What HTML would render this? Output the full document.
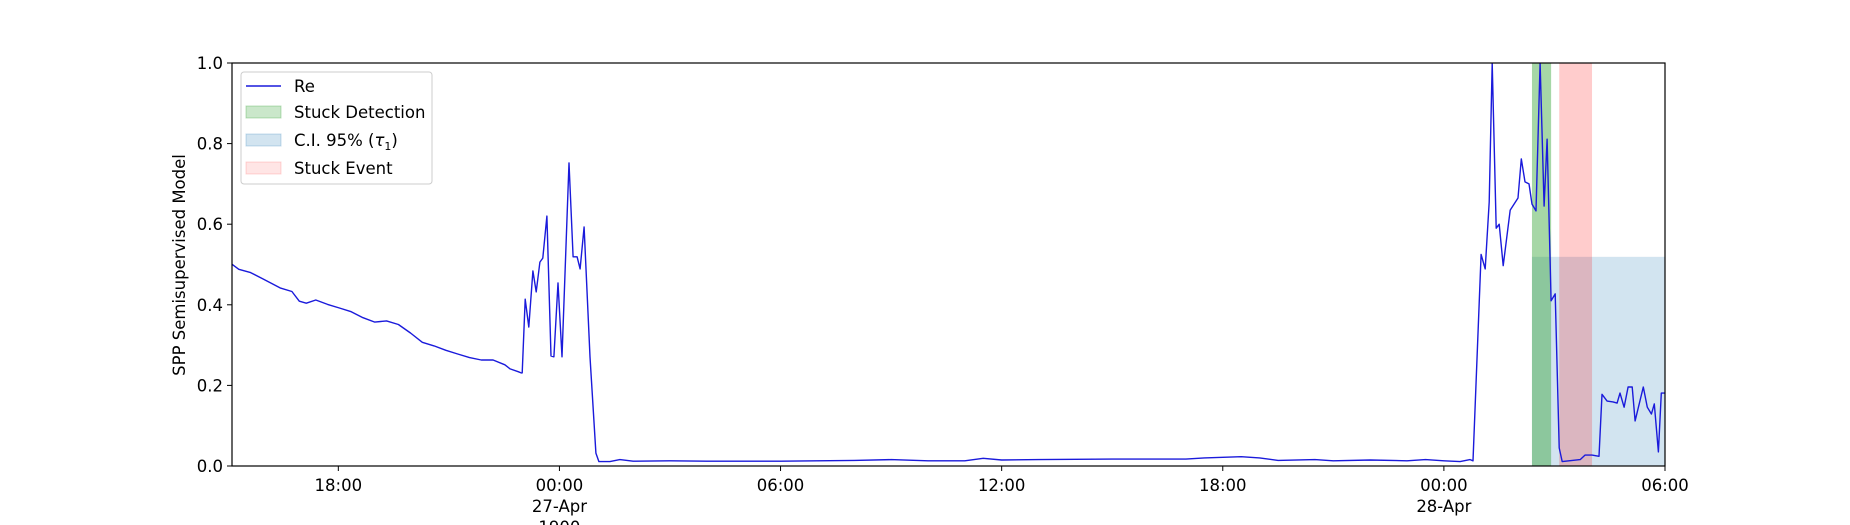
<!DOCTYPE html>
<html><head><meta charset="utf-8"><style>
html,body{margin:0;padding:0;background:#fff;}
svg{display:block;font-family:"DejaVu Sans","Liberation Sans",sans-serif;}
</style></head><body>
<svg id="chart" width="1850" height="525" viewBox="0 0 1850 525" xmlns="http://www.w3.org/2000/svg">
<defs><clipPath id="plotclip"><rect x="232" y="63" width="1433" height="403"/></clipPath></defs>
<g id="spans" clip-path="url(#plotclip)"></g>
<g id="line" clip-path="url(#plotclip)"></g>
<rect x="232" y="63" width="1433" height="403" fill="none" stroke="#000" stroke-width="1.2"/>
<g id="yaxis"></g>
<g id="xaxis"></g>
<text x="0" y="0" transform="translate(185,265) rotate(-90)" text-anchor="middle" font-size="16.5" fill="#000">SPP Semisupervised Model</text>
<g>
<rect x="241" y="72" width="191" height="112" rx="3" fill="#fff" fill-opacity="0.8" stroke="#ccc"/>
<g><line x1="246" y1="86" x2="281" y2="86" stroke="#1a1adb" stroke-width="1.4"/><text x="294" y="92" font-size="16.5">Re</text></g>
<g><rect x="246" y="106" width="35" height="12" fill="#2ca02c" fill-opacity="0.25" stroke="#2ca02c" stroke-opacity="0.3"/><text x="294" y="118" font-size="16.5">Stuck Detection</text></g>
<g><rect x="246" y="134" width="35" height="12" fill="#1f77b4" fill-opacity="0.2" stroke="#1f77b4" stroke-opacity="0.25"/><text x="294" y="146" font-size="16.5">C.I. 95% (<tspan font-style="italic">τ</tspan><tspan font-size="11" dy="4">1</tspan><tspan dy="-4">)</tspan></text></g>
<g><rect x="246" y="162" width="35" height="12" fill="#ff0000" fill-opacity="0.1" stroke="#ff0000" stroke-opacity="0.15"/><text x="294" y="174" font-size="16.5">Stuck Event</text></g>
</g>
</svg>
<script>
// hours since 26-Apr 00:00
const times = [15.04,15.30,15.62,15.94,16.42,16.74,16.94,17.13,17.39,17.71,18.03,18.35,18.67,18.99,19.31,19.63,19.96,20.28,20.60,20.92,21.24,21.56,21.88,22.20,22.52,22.66,22.88,22.96,22.99,23.07,23.17,23.28,23.37,23.47,23.55,23.66,23.77,23.85,23.96,24.07,24.26,24.37,24.48,24.56,24.67,24.83,24.99,25.07,25.37,25.64,26,27,28,29,30,31,32,33,34,35,35.5,36,37,39,41,41.5,42.5,43,43.5,44.5,45,46,47,47.5,48,48.44,48.71,48.79,49.01,49.12,49.23,49.31,49.42,49.50,49.61,49.80,50.01,50.10,50.20,50.31,50.39,50.50,50.61,50.72,50.80,50.91,51.02,51.13,51.21,51.70,51.83,52.02,52.21,52.29,52.43,52.59,52.70,52.78,52.89,53.00,53.11,53.19,53.41,53.52,53.63,53.71,53.82,53.90,54.0];
const values = [0.506,0.488,0.480,0.465,0.442,0.433,0.409,0.404,0.412,0.401,0.392,0.383,0.368,0.357,0.360,0.351,0.330,0.307,0.298,0.287,0.278,0.269,0.263,0.263,0.251,0.241,0.234,0.231,0.231,0.414,0.345,0.484,0.432,0.506,0.516,0.620,0.273,0.271,0.454,0.271,0.752,0.519,0.519,0.489,0.593,0.271,0.032,0.011,0.011,0.016,0.012,0.013,0.012,0.012,0.012,0.013,0.014,0.016,0.013,0.013,0.019,0.015,0.016,0.017,0.017,0.020,0.023,0.020,0.014,0.016,0.013,0.015,0.013,0.016,0.013,0.011,0.016,0.013,0.525,0.489,0.655,1.0,0.59,0.60,0.497,0.635,0.665,0.762,0.705,0.70,0.65,0.633,1.0,0.645,0.811,0.41,0.427,0.045,0.011,0.016,0.027,0.027,0.024,0.178,0.161,0.159,0.156,0.181,0.146,0.196,0.196,0.112,0.196,0.146,0.129,0.154,0.035,0.181,0.181];
const yTicks = [0,0.2,0.4,0.6,0.8,1.0];
const yTickLabels = ["0.0","0.2","0.4","0.6","0.8","1.0"];
const xTicks = [18,24,30,36,42,48,54];
const xTickLabels = [["18:00"],["00:00","27-Apr","1900"],["06:00"],["12:00"],["18:00"],["00:00","28-Apr"],["06:00"]];
const detectSpan = [50.39,50.91];
const eventSpan = [51.13,52.02];
const ciSpan = [50.39,54.0];
const ciUpper = [0.519];

const X0=232,X1=1665,Y0=466,Y1=63,T0=15.115,T1=54;
const xs = t => X0 + (t-T0)/(T1-T0)*(X1-X0);
const ys = v => Y0 - v*(Y0-Y1);
const NS="http://www.w3.org/2000/svg";
function mk(tag, attrs, parent){const e=document.createElementNS(NS,tag);for(const k in attrs)e.setAttribute(k,attrs[k]);parent.appendChild(e);return e;}

const spans=document.getElementById('spans');
let r=mk('rect',{x:xs(ciSpan[0]),y:ys(ciUpper[0]),width:xs(ciSpan[1])-xs(ciSpan[0]),height:ys(0)-ys(ciUpper[0]),fill:'#1f77b4','fill-opacity':0.2},spans);


r=mk('rect',{x:xs(detectSpan[0]),y:ys(1),width:xs(detectSpan[1])-xs(detectSpan[0]),height:ys(0)-ys(1),fill:'#2ca02c','fill-opacity':0.42},spans);


r=mk('rect',{x:xs(eventSpan[0]),y:ys(1),width:xs(eventSpan[1])-xs(eventSpan[0]),height:ys(0)-ys(1),fill:'#ff0000','fill-opacity':0.2},spans);



const pts=times.map((t,i)=>xs(t).toFixed(1)+','+ys(values[i]).toFixed(1)).join(' ');
const pl=mk('polyline',{points:pts,fill:'none',stroke:'#1a1adb','stroke-width':1.4,'stroke-linejoin':'round'},document.getElementById('line'));



const ya=document.getElementById('yaxis');
yTicks.forEach((v,i)=>{
  const y=ys(v);
  const tk=mk('line',{x1:X0-5,y1:y,x2:X0,y2:y,stroke:'#000','stroke-width':1},ya);
  
  
  const tx=mk('text',{x:X0-9,y:y+6,'text-anchor':'end','font-size':16.5,fill:'#000'},ya);
  tx.textContent=yTickLabels[i];
  
  
});
const xa=document.getElementById('xaxis');
xTicks.forEach((t,i)=>{
  const x=xs(t);
  const tk=mk('line',{x1:x,y1:Y0,x2:x,y2:Y0+5,stroke:'#000','stroke-width':1},xa);
  
  
  xTickLabels[i].forEach((s,j)=>{
    const tx=mk('text',{x:x,y:491+j*21,'text-anchor':'middle','font-size':16.5,fill:'#000'},xa);
    tx.textContent=s;
    
    
  });
});
</script>
</body></html>
